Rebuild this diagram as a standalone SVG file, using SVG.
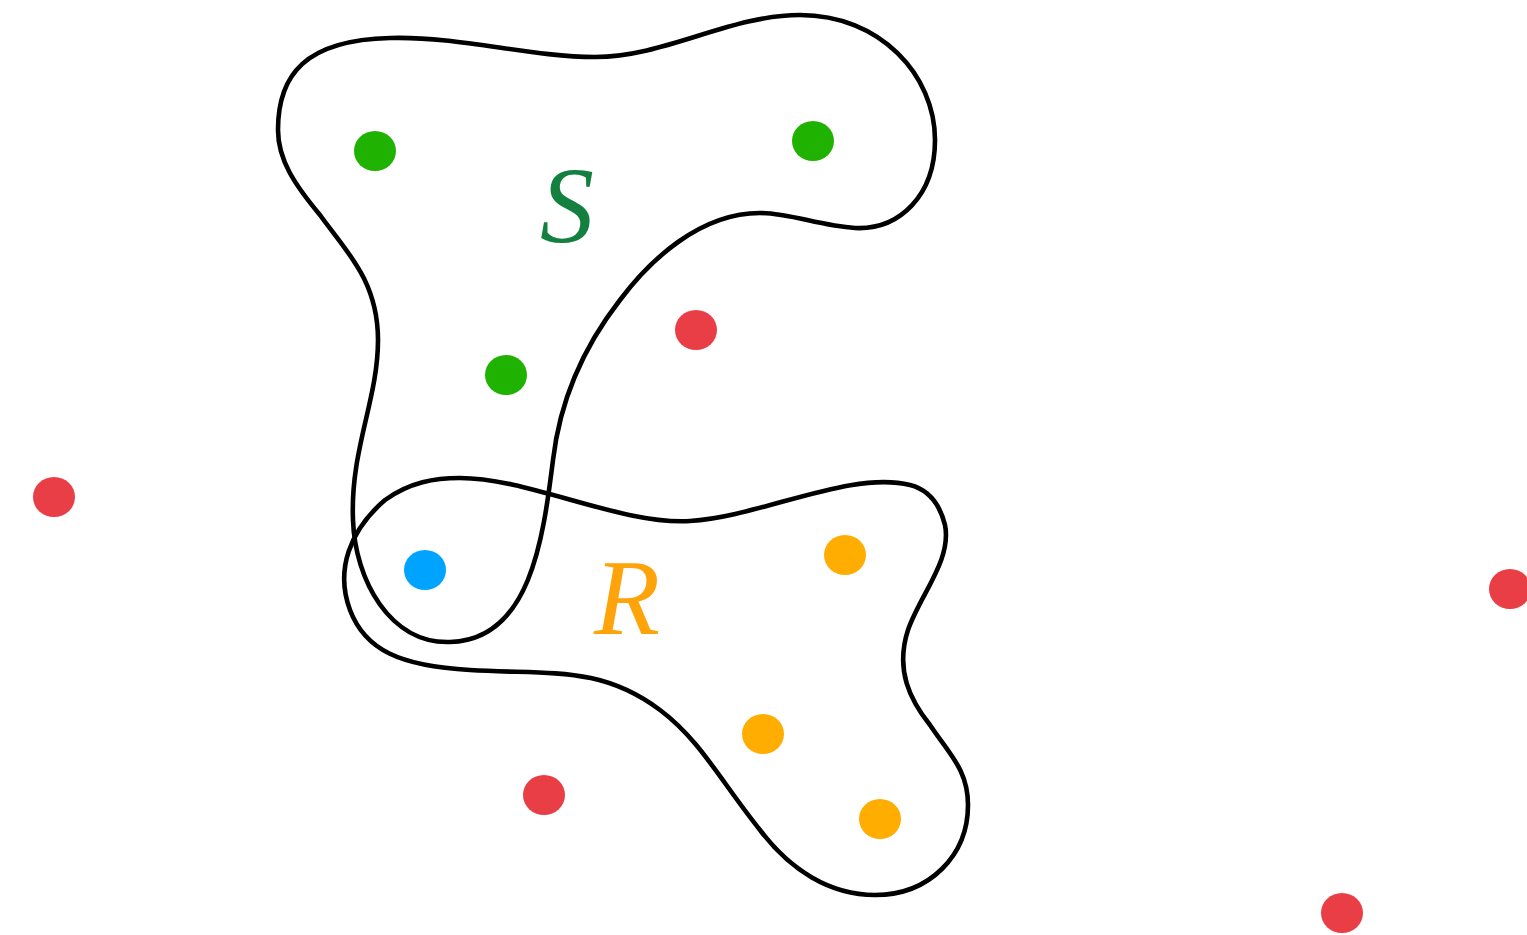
<svg xmlns="http://www.w3.org/2000/svg" width="1527" height="935" viewBox="0 0 1527 935">
  <style>
    .blob { fill: none; stroke: #000; stroke-width: 4.6; stroke-linejoin: round; }
    .lbl { font-family: "Liberation Serif", "DejaVu Serif", serif; font-style: italic; font-size: 108px; }
    .g { fill: #20b200; }
    .r { fill: #e93e45; }
    .b { fill: #00a4ff; }
    .o { fill: #ffad00; }
  </style>
  <rect width="1527" height="935" fill="#fff"/>

  <!-- set outlines -->
  <g id="set-S">
    <path class="blob" d="M 278 130 C 278 75, 305 40, 390 38 C 460 36, 530 57, 595 57 C 665 57, 730 15, 800 15 C 880 15, 935 75, 935 140 C 935 195, 900 230, 855 228 C 820 226, 790 213, 760 213 C 700 213, 650 260, 620 300 C 585 345, 560 400, 553 460 C 543 540, 530 640, 450 642 C 390 644, 355 580, 353 520 C 350 450, 378 400, 378 340 C 378 280, 345 250, 320 215 C 295 185, 278 160, 278 130 Z"/>
    <text class="lbl" x="540" y="242" fill="#138040">S</text>
  </g>
  <g id="set-R">
    <path class="blob" d="M 460 478 C 530 478, 620 525, 690 521 C 760 517, 850 470, 910 485 C 930 490, 940 505, 945 525 C 952 560, 920 595, 908 630 C 895 670, 910 700, 930 725 C 950 755, 968 770, 968 805 C 968 855, 930 895, 875 895 C 830 895, 790 870, 760 830 C 720 780, 700 740, 660 710 C 600 665, 550 675, 470 670 C 400 666, 365 650, 350 610 C 335 570, 350 530, 385 500 C 410 482, 435 478, 460 478 Z"/>
    <text class="lbl" x="594" y="634" fill="#ffa30a">R</text>
  </g>

  <!-- points -->
  <g id="points">
    <ellipse class="g" cx="375" cy="151" rx="21" ry="20"/>
    <ellipse class="g" cx="813" cy="141" rx="21" ry="20"/>
    <ellipse class="g" cx="506" cy="375" rx="21" ry="20"/>
    <ellipse class="r" cx="696" cy="330" rx="21" ry="20"/>
    <ellipse class="r" cx="54" cy="497" rx="21" ry="20"/>
    <ellipse class="r" cx="544" cy="795" rx="21" ry="20"/>
    <ellipse class="r" cx="1510" cy="589" rx="21" ry="20"/>
    <ellipse class="r" cx="1342" cy="913" rx="21" ry="20"/>
    <ellipse class="b" cx="425" cy="570" rx="21" ry="20"/>
    <ellipse class="o" cx="845" cy="555" rx="21" ry="20"/>
    <ellipse class="o" cx="763" cy="734" rx="21" ry="20"/>
    <ellipse class="o" cx="880" cy="819" rx="21" ry="20"/>
  </g>
</svg>
